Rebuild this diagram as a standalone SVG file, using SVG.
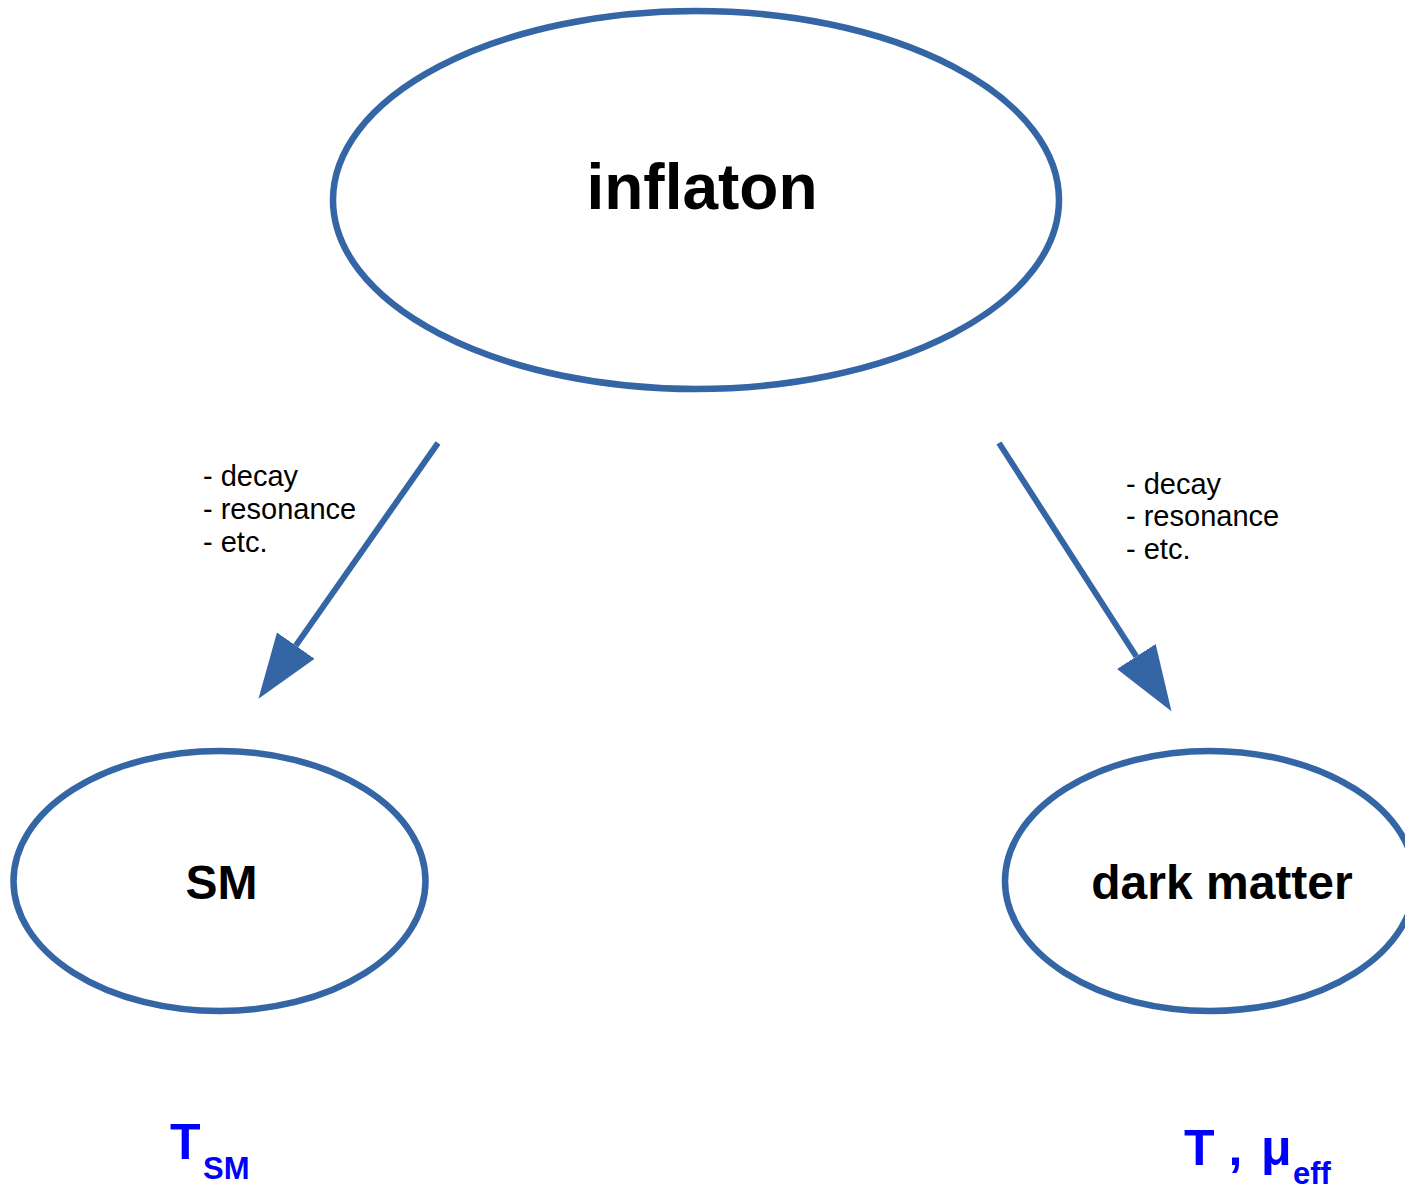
<svg xmlns="http://www.w3.org/2000/svg" width="1405" height="1191" viewBox="0 0 1405 1191">
<defs>
<style>
.node{fill:#fff;stroke:#3465a4;stroke-width:6.5}
.conn{stroke:#3465a4;stroke-width:6;fill:none}
.title{font-family:"Liberation Sans",Arial,sans-serif;font-weight:bold;fill:#000;text-anchor:middle}
.lbl{font-family:"Liberation Sans",Arial,sans-serif;font-size:29px;fill:#000}
.var{font-family:"Liberation Sans",Arial,sans-serif;font-weight:bold;fill:#0000ff}
</style>
<marker id="ah" markerUnits="userSpaceOnUse" viewBox="0 -25 70 50" refX="0" refY="0" markerWidth="70" markerHeight="50" orient="auto">
<path d="M0,-23 L65,0 L0,23 z" fill="#3465a4"/>
</marker>
</defs>
<rect width="1405" height="1191" fill="#fff"/>
<g id="inflaton">
<ellipse class="node" cx="696" cy="200" rx="363" ry="189"/>
<text class="title" x="702" y="209" font-size="64">inflaton</text>
</g>
<g id="sm">
<ellipse class="node" cx="219.5" cy="881" rx="206" ry="130"/>
<text class="title" x="221.5" y="899" font-size="48">SM</text>
</g>
<g id="darkmatter">
<ellipse class="node" cx="1210" cy="881" rx="205" ry="130"/>
<text class="title" x="1222" y="899" font-size="48">dark matter</text>
</g>
<g id="connectors">
<line class="conn" x1="438" y1="443" x2="295.8" y2="645.6" marker-end="url(#ah)"/>
<line class="conn" x1="999" y1="443" x2="1136.3" y2="656.5" marker-end="url(#ah)"/>
</g>
<g id="labels">
<text class="lbl" x="203" y="486">- decay</text>
<text class="lbl" x="203" y="519">- resonance</text>
<text class="lbl" x="203" y="552">- etc.</text>
<text class="lbl" x="1126" y="494">- decay</text>
<text class="lbl" x="1126" y="526">- resonance</text>
<text class="lbl" x="1126" y="559">- etc.</text>
</g>
<g id="vars">
<text class="var" x="170" y="1159" font-size="50">T</text>
<text class="var" x="203" y="1179" font-size="31">SM</text>
<text class="var" x="1184" y="1165" font-size="50">T , <tspan x="1261">μ</tspan></text>
<text class="var" x="1293" y="1184" font-size="31">eff</text>
</g>
</svg>
